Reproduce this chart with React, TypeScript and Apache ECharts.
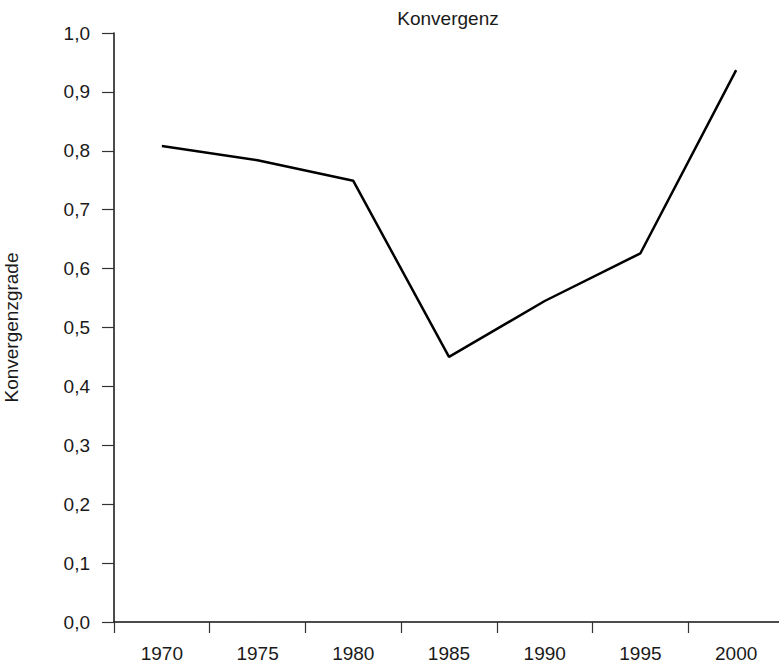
import React, { useEffect, useRef } from "react";
import * as echarts from "echarts";

const categories = ["1970", "1975", "1980", "1985", "1990", "1995", "2000"];
const values = [0.808, 0.784, 0.749, 0.45, 0.545, 0.626, 0.937];
const titleText = "Konvergenz";
const yAxisName = "Konvergenzgrade";

const FONT = '"Liberation Sans", Arial, Helvetica, sans-serif';
const TEXT = "#1a1a1a";

export default function App() {
  const ref = useRef<HTMLDivElement>(null);
  useEffect(() => {
    if (!ref.current) return;
    const chart = echarts.init(ref.current, null, { renderer: "svg" });
    chart.setOption({
      animation: false,
      backgroundColor: "#ffffff",
      textStyle: { fontFamily: FONT },
      graphic: [
        {
          type: "text",
          x: 448,
          y: 18,
          style: {
            text: titleText,
            fontFamily: FONT,
            fontSize: 19,
            fill: TEXT,
            textAlign: "center",
            textVerticalAlign: "middle",
          },
        },
      ],
      grid: {
        left: 114,
        right: -5,
        top: 33,
        bottom: 45,
        containLabel: false,
        outerBoundsMode: "none",
      },
      xAxis: {
        type: "category",
        data: categories,
        boundaryGap: true,
        axisLine: { show: true, lineStyle: { color: "#111", width: 1.5 } },
        axisTick: { show: true, length: 11, inside: false, alignWithLabel: false, lineStyle: { color: "#333", width: 1.2 } },
        axisLabel: { fontSize: 19, color: TEXT, fontFamily: FONT, margin: 22 },
        splitLine: { show: false },
      },
      yAxis: {
        type: "value",
        min: 0,
        max: 1,
        interval: 0.1,
        name: yAxisName,
        nameLocation: "middle",
        nameGap: 93,
        nameTextStyle: { fontSize: 19, color: TEXT, fontFamily: FONT },
        axisLine: { show: true, lineStyle: { color: "#111", width: 1.5 } },
        axisTick: { show: true, length: 12, lineStyle: { color: "#333", width: 1.2 } },
        axisLabel: {
          fontSize: 19,
          color: TEXT,
          fontFamily: FONT,
          margin: 24,
          formatter: (v: number) => v.toFixed(1).replace(".", ","),
        },
        splitLine: { show: false },
      },
      series: [
        {
          type: "line",
          data: values,
          symbol: "none",
          lineStyle: { color: "#000", width: 2.5 },
        },
      ],
    });
    return () => chart.dispose();
  }, []);
  return (
    <div
      ref={ref}
      style={{ position: "fixed", left: 0, top: 0, width: 779, height: 667 }}
    />
  );
}
